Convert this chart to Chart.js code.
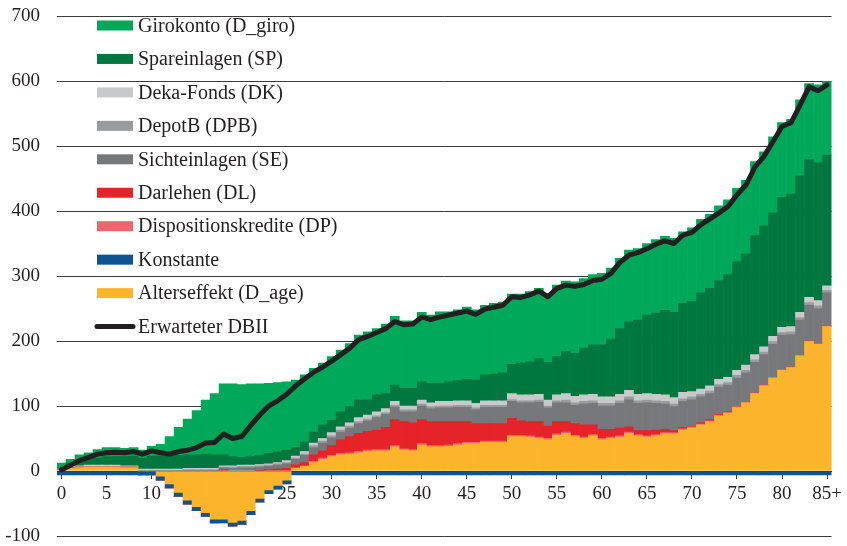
<!DOCTYPE html>
<html>
<head>
<meta charset="utf-8">
<title>Erwarteter DBII nach Alter</title>
<script src="https://cdn.jsdelivr.net/npm/chart.js@4.4.1/dist/chart.umd.min.js"></script>
<style>
  html, body { margin: 0; padding: 0; background: #fff; }
  #wrap { width: 847px; height: 546px; }
</style>
</head>
<body>
<div id="wrap"><canvas id="dbChart"></canvas></div>
<script>
// Altersklassen 0 ... 84, 85+
const ages = Array.from({ length: 85 }, (_, i) => String(i)).concat(['85+']);

// Beiträge je Alter
const alterseffekt = [1, 4, 5, 6, 6, 6, 6, 5, 5, 0,
  0, -8, -20, -33, -45, -55, -64, -74, -74, -79,
  -76, -61, -42, -29, -22, -14, 4, 7, 13, 18,
  22, 25, 26, 28, 30, 31, 31, 37, 32, 31,
  40, 37, 37, 38, 40, 42, 42, 44, 44, 44,
  53, 53, 52, 50, 48, 55, 58, 53, 50, 54,
  48, 50, 52, 58, 54, 52, 54, 57, 57, 63,
  66, 71, 76, 85, 89, 98, 105, 119, 131, 143,
  155, 159, 177, 199, 195, 222];

const konstante = [-6, -6, -6, -6, -6, -6, -6, -6, -6, -6,
  -6, -6, -6, -6, -6, -6, -6, -6, -6, -6,
  -6, -6, -6, -6, -6, -6, -6, -6, -6, -6,
  -6, -6, -6, -6, -6, -6, -6, -6, -6, -6,
  -6, -6, -6, -6, -6, -6, -6, -6, -6, -6,
  -6, -6, -6, -6, -6, -6, -6, -6, -6, -6,
  -6, -6, -6, -6, -6, -6, -6, -6, -6, -6,
  -6, -6, -6, -6, -6, -6, -6, -6, -6, -6,
  -6, -6, -6, -6, -6, -6];

const dispo = [1, 1, 1, 1, 1, 1, 1, 1, 1, 0,
  0, 0, 0, 0, 0, 0, 0, 0, 0, 0,
  0, 0, 0, 0, 0, 0, 1, 1, 2, 2,
  2, 2, 2, 2, 2, 2, 2, 2, 2, 2,
  2, 2, 2, 2, 2, 2, 2, 2, 2, 2,
  2, 2, 2, 2, 2, 2, 2, 2, 2, 2,
  2, 2, 2, 2, 2, 2, 2, 2, 2, 2,
  2, 1, 1, 1, 1, 1, 1, 1, 1, 1,
  1, 1, 1, 1, 1, 1];

const darlehen = [0, 0, 0, 0, 0, 0, 0, 0, 0, 0,
  0, 0, 0, 0, 0, 0, 0, 0, 2, 0,
  0, 0, 1, 2, 3, 4, 5, 5, 10, 11,
  15, 21, 25, 28, 29, 30, 34, 40, 42, 41,
  37, 37, 37, 36, 34, 32, 29, 27, 27, 27,
  26, 22, 22, 24, 19, 19, 16, 18, 19, 15,
  14, 12, 12, 8, 6, 8, 7, 5, 3, 2,
  1, 2, 2, 1, 1, 0, 0, 0, 0, 0,
  0, 0, 0, 0, 0, 0];

const sichteinlagen = [0, 0, 0, 0, 0, 0, 0, 0, 0, 1,
  1, 1, 1, 1, 1, 1, 1, 1, 3, 4,
  5, 5, 5, 5, 6, 7, 8, 11, 11, 12,
  12, 12, 13, 15, 16, 19, 20, 19, 15, 17,
  21, 20, 21, 21, 22, 22, 21, 25, 25, 25,
  26, 28, 29, 30, 28, 29, 29, 28, 32, 33,
  36, 36, 38, 42, 42, 43, 41, 39, 37, 40,
  41, 40, 40, 42, 41, 44, 45, 47, 47, 51,
  53, 50, 54, 55, 54, 51];

const depotB = [0, 0, 0, 0, 0, 0, 0, 0, 0, 0,
  0, 0, 0, 0, 1, 1, 1, 1, 1, 2,
  2, 2, 2, 2, 2, 2, 2, 2, 3, 3,
  3, 3, 3, 3, 3, 3, 3, 3, 3, 3,
  3, 3, 3, 3, 3, 3, 3, 3, 3, 3,
  3, 3, 3, 3, 3, 3, 4, 4, 4, 4,
  4, 4, 4, 4, 4, 4, 4, 4, 4, 4,
  4, 4, 4, 4, 4, 4, 4, 4, 4, 4,
  4, 4, 4, 4, 4, 4];

const dekaFonds = [1, 2, 2, 2, 2, 2, 2, 2, 2, 2,
  2, 2, 2, 2, 2, 2, 2, 2, 2, 2,
  2, 2, 2, 2, 2, 3, 3, 4, 4, 4,
  5, 5, 5, 6, 6, 6, 6, 6, 6, 6,
  6, 6, 7, 7, 7, 7, 7, 7, 7, 7,
  9, 9, 9, 9, 9, 9, 10, 10, 10, 10,
  10, 10, 10, 10, 10, 10, 10, 10, 10, 10,
  8, 8, 8, 8, 8, 8, 8, 8, 8, 8,
  8, 8, 8, 8, 8, 7];

const spareinlagen = [2, 5, 7, 9, 11, 13, 13, 14, 15, 17,
  20, 20, 20, 21, 21, 21, 22, 21, 17, 14,
  12, 13, 14, 16, 17, 16, 13, 15, 17, 21,
  19, 23, 25, 27, 24, 26, 23, 25, 27, 27,
  28, 30, 28, 30, 31, 33, 36, 40, 41, 43,
  45, 49, 51, 55, 58, 59, 65, 66, 72, 76,
  80, 89, 101, 106, 114, 121, 125, 130, 131, 137,
  139, 148, 150, 152, 158, 167, 171, 183, 186, 190,
  200, 204, 210, 212, 212, 201];

const girokonto = [7, 6, 10, 10, 13, 14, 14, 13, 13, 12,
  15, 18, 30, 43, 55, 68, 83, 94, 109, 112,
  112, 112, 110, 108, 106, 105, 104, 103, 98, 95,
  98, 95, 97, 100, 104, 102, 107, 106, 104, 104,
  107, 105, 110, 108, 109, 111, 108, 107, 109, 109,
  108, 106, 108, 108, 106, 110, 108, 110, 107, 108,
  110, 109, 108, 110, 110, 110, 113, 114, 114, 110,
  113, 113, 114, 115, 115, 113, 113, 114, 114, 117,
  115, 115, 117, 117, 120, 113];

const erwarteterDBII = [2, 9, 16, 21, 26, 28, 29, 28, 30, 26,
  31, 28, 26, 30, 32, 36, 43, 44, 57, 50,
  53, 70, 86, 100, 108, 118, 131, 142, 152, 160,
  169, 179, 189, 202, 207, 213, 219, 230, 225, 226,
  237, 233, 237, 240, 243, 246, 241, 249, 252, 255,
  268, 267, 271, 277, 268, 281, 286, 284, 287, 293,
  295, 304, 321, 332, 336, 342, 349, 354, 350, 363,
  367, 379, 388, 397, 407, 425, 440, 468, 484, 507,
  530, 536, 563, 591, 585, 594];

const yTicks = [-100, 0, 100, 200, 300, 400, 500, 600, 700];

const serif = '"Liberation Serif", "Times New Roman", serif';
const textColor = '#231f20';

function bar(label, data, color) {
  return { label, data, backgroundColor: color, borderWidth: 0, order: 1, stack: 'db' };
}

// Reihenfolge im Stapel: von der Nulllinie nach außen
const barSets = [
  bar('Alterseffekt (D_age)', alterseffekt, '#fbb42b'),
  bar('Konstante', konstante, '#0f5492'),
  bar('Dispositionskredite (DP)', dispo, '#f0646c'),
  bar('Darlehen (DL)', darlehen, '#e52329'),
  bar('Sichteinlagen (SE)', sichteinlagen, '#77787b'),
  bar('DepotB (DPB)', depotB, '#9a9b9d'),
  bar('Deka-Fonds (DK)', dekaFonds, '#c8c9cb'),
  bar('Spareinlagen (SP)', spareinlagen, '#00773e'),
  bar('Girokonto (D_giro)', girokonto, '#00a85a')
];

const lineSet = {
  type: 'line',
  label: 'Erwarteter DBII',
  data: erwarteterDBII,
  borderColor: textColor,
  borderWidth: 5,
  pointRadius: 0,
  tension: 0,
  borderJoinStyle: 'round',
  borderCapStyle: 'round',
  order: 0,
  stack: 'total'
};

// Legende links oben im Diagramm, untereinander
const sideLegend = {
  id: 'sideLegend',
  afterDraw(chart) {
    const ctx = chart.ctx;
    const area = chart.chartArea;
    const x = area.left + 40;
    const step = 33.45;
    const entries = barSets.slice().reverse().concat([lineSet]);
    ctx.save();
    ctx.font = '20px ' + serif;
    ctx.textBaseline = 'middle';
    entries.forEach((ds, i) => {
      const y = area.top + 9.5 + i * step;
      if (ds.type === 'line') {
        ctx.strokeStyle = ds.borderColor;
        ctx.lineWidth = 5;
        ctx.lineCap = 'round';
        ctx.beginPath();
        ctx.moveTo(x, y);
        ctx.lineTo(x + 36, y);
        ctx.stroke();
      } else {
        ctx.fillStyle = ds.backgroundColor;
        ctx.fillRect(x, y - 5, 36, 10);
      }
      ctx.fillStyle = textColor;
      ctx.fillText(ds.label, x + 41, y + 1);
    });
    ctx.restore();
  }
};

new Chart(document.getElementById('dbChart'), {
  type: 'bar',
  data: {
    labels: ages,
    datasets: barSets.concat([lineSet])
  },
  options: {
    responsive: true,
    maintainAspectRatio: false,
    animation: false,
    devicePixelRatio: 1,
    layout: { padding: { top: 16, right: 15, bottom: 10, left: 0 } },
    categoryPercentage: 1,
    barPercentage: 1,
    plugins: {
      legend: { display: false },
      tooltip: { enabled: false }
    },
    scales: {
      x: {
        stacked: true,
        position: { y: 0 },
        z: 1,
        afterFit: (scale) => { scale.height = 0; },
        grid: {
          offset: false,
          drawOnChartArea: false,
          drawTicks: true,
          tickLength: 7,
          color: (c) => (c.index % 5 === 0 ? '#3a3a3a' : 'rgba(0,0,0,0)'),
          tickColor: (c) => (c.index % 5 === 0 ? '#3a3a3a' : 'rgba(0,0,0,0)')
        },
        border: { display: true, color: '#2a2a2a', width: 1 },
        ticks: {
          autoSkip: false,
          maxRotation: 0,
          padding: 5,
          color: textColor,
          font: { family: serif, size: 19 },
          callback: function (value, index) {
            return index % 5 === 0 ? ages[index] : '';
          }
        }
      },
      y: {
        stacked: true,
        min: yTicks[0],
        max: yTicks[yTicks.length - 1],
        afterBuildTicks: (scale) => {
          scale.ticks = yTicks.map((v) => ({ value: v }));
        },
        afterFit: (scale) => {
          scale.width = 57;
          scale.paddingTop = 0;
          scale.paddingBottom = 0;
        },
        grid: { color: '#3a3a3a', lineWidth: 1, drawTicks: false },
        border: { display: false },
        ticks: {
          padding: 17,
          color: textColor,
          font: { family: serif, size: 19 }
        }
      }
    }
  },
  plugins: [sideLegend]
});
</script>
</body>
</html>
